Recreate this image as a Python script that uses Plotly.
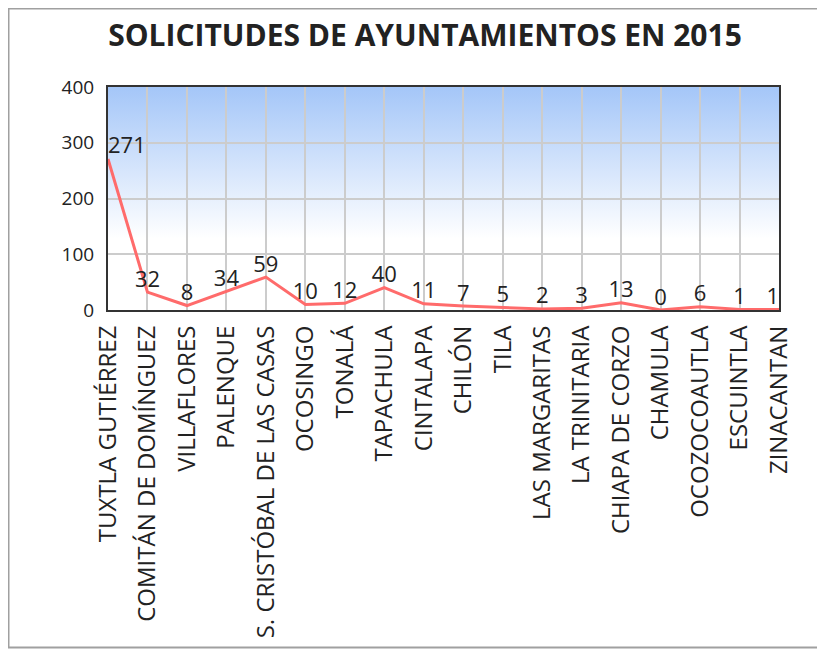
import base64
import plotly.graph_objects as go

municipios = ["TUXTLA GUTIÉRREZ", "COMITÁN DE DOMÍNGUEZ", "VILLAFLORES", "PALENQUE",
              "S. CRISTÓBAL DE LAS CASAS", "OCOSINGO", "TONALÁ", "TAPACHULA", "CINTALAPA",
              "CHILÓN", "TILA", "LAS MARGARITAS", "LA TRINITARIA", "CHIAPA DE CORZO",
              "CHAMULA", "OCOZOCOAUTLA", "ESCUINTLA", "ZINACANTAN"]
solicitudes = [271, 32, 8, 34, 59, 10, 12, 40, 11, 7, 5, 2, 3, 13, 0, 6, 1, 1]
y_ticks = [0, 100, 200, 300, 400]

idx = list(range(len(municipios)))
positions = ["top center"] * len(municipios)
positions[0] = "top right"
positions[-1] = "top left"

svg = ('<svg xmlns="http://www.w3.org/2000/svg" width="100" height="100" preserveAspectRatio="none">'
       '<defs><linearGradient id="g" x1="0" y1="0" x2="0" y2="1">'
       '<stop offset="0" stop-color="#a4c6f8"/><stop offset="0.68" stop-color="#ffffff"/>'
       '<stop offset="1" stop-color="#ffffff"/></linearGradient></defs>'
       '<rect width="100" height="100" fill="url(#g)"/></svg>')
src = "data:image/svg+xml;base64," + base64.b64encode(svg.encode()).decode()

fig = go.Figure()
fig.add_trace(go.Scatter(
    x=idx, y=solicitudes, mode="lines+text",
    line=dict(color="#ff6b6b", width=3),
    text=[str(v) for v in solicitudes], textposition=positions,
    textfont=dict(family="Open Sans", size=22, color="#222222"),
    cliponaxis=False, hoverinfo="skip", showlegend=False,
))

# page body has an 8px margin; figure coordinates = reference coordinates - 8
OFF = 8
W, H = 825 - OFF, 649 - OFF
L, R, T, B = 108 - OFF, 779 - OFF, 87 - OFF, 310 - OFF
pw, ph = R - L, B - T

fig.update_layout(
    width=W, height=H,
    margin=dict(l=L, r=W - R, t=T, b=H - B),
    paper_bgcolor="white", plot_bgcolor="rgba(0,0,0,0)",
    font=dict(family="Open Sans", color="#222222"),
    title=dict(text="<b>SOLICITUDES DE AYUNTAMIENTOS EN 2015</b>",
               x=(425 - OFF) / W, xref="container", xanchor="center",
               y=1 - (35 - OFF) / H, yref="container", yanchor="middle",
               font=dict(family="Open Sans", size=30, color="#222222")),
    images=[dict(source=src, xref="paper", yref="paper", x=0, y=1, sizex=1, sizey=1,
                 sizing="stretch", layer="below", xanchor="left", yanchor="top")],
    shapes=[dict(type="rect", xref="paper", yref="paper",
                 x0=(0.5 - L) / pw, x1=(840 - L) / pw,
                 y0=(B - (H - 1.5)) / ph, y1=(B - 0.5) / ph,
                 line=dict(color="#a0a0a0", width=2), fillcolor="rgba(0,0,0,0)", layer="below")],
)
fig.update_xaxes(range=[0, len(municipios) - 1], tickvals=idx, ticktext=municipios,
                 tickangle=-90, showgrid=True, gridcolor="#cccccc", gridwidth=1.5,
                 showline=True, linecolor="#333333", linewidth=2, mirror=True,
                 ticks="outside", ticklen=4, tickcolor="rgba(0,0,0,0)",
                 tickfont=dict(family="Open Sans", size=24, color="#222222"),
                 zeroline=False)
fig.update_yaxes(range=[0, 400], tickvals=y_ticks, showgrid=True, gridcolor="#cccccc",
                 gridwidth=1.5, showline=True, linecolor="#333333", linewidth=2, mirror=True,
                 ticks="outside", ticklen=8, tickcolor="rgba(0,0,0,0)",
                 tickfont=dict(family="Open Sans", size=19, color="#222222"),
                 zeroline=False)

fig.write_html("out.html")
